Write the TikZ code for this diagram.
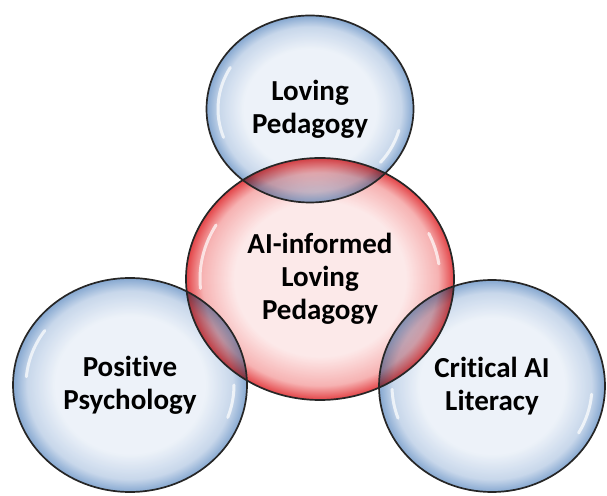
\documentclass[tikz,border=0pt]{standalone}
\usepackage{fontspec}
\setmainfont{Carlito}[Ligatures=NoCommon]
\usetikzlibrary{shapes.geometric}
\definecolor{bluein}{RGB}{234,240,248}
\definecolor{bluemid}{RGB}{190,208,231}
\definecolor{bluerim}{RGB}{112,152,200}
\definecolor{redin}{RGB}{252,229,229}
\definecolor{redmid}{RGB}{245,165,165}
\definecolor{redrim}{RGB}{222,34,38}
\pgfdeclareradialshading{bubblue}{\pgfpoint{0bp}{0bp}}{color(0bp)=(bluein); color(16bp)=(bluein); color(22bp)=(bluemid); color(25bp)=(bluerim); color(50bp)=(bluerim)}
\pgfdeclareradialshading{bubred}{\pgfpoint{0bp}{0bp}}{color(0bp)=(redin); color(16bp)=(redin); color(22bp)=(redmid); color(25bp)=(redrim); color(50bp)=(redrim)}
\begin{document}
\begin{tikzpicture}[x=1pt, y=1pt,
  bubble/.style={ellipse, inner sep=0pt, align=center, fill opacity=0.85, text opacity=1,
    font=\bfseries\fontsize{29}{33}\selectfont},
  rim/.style={draw=black!85, line width=1.7pt},
  gloss/.style={white, line width=3pt, line cap=round, opacity=0.7}]
\useasboundingbox (0,0) rectangle (607,495);
\node[bubble, shading=bubred, minimum width=268pt, minimum height=242pt] (core) at (320,216) {AI-informed\\Loving\\Pedagogy};
\begin{scope}[blend mode=multiply]
\node[bubble, shading=bubblue, minimum width=207pt, minimum height=187pt] (lp) at (310,386) {Loving\\Pedagogy};
\node[bubble, shading=bubblue, minimum width=234pt, minimum height=214pt] (pp) at (130,110) {Positive\\Psychology};
\node[bubble, shading=bubblue, minimum width=226pt, minimum height=212pt] (cal) at (492,109) {Critical AI\\Literacy};
\end{scope}
% highlights
\draw[gloss] (core.center) ++(150:120pt and 108pt) arc[start angle=150, end angle=185, x radius=120pt, y radius=108pt];
\draw[gloss] (core.center) ++(25:120pt and 108pt) arc[start angle=25, end angle=8, x radius=120pt, y radius=108pt];
\draw[gloss] (lp.center) ++(150:92pt and 83pt) arc[start angle=150, end angle=200, x radius=92pt, y radius=83pt];
\draw[gloss] (lp.center) ++(-15:92pt and 83pt) arc[start angle=-15, end angle=-40, x radius=92pt, y radius=83pt];
\draw[gloss] (pp.center) ++(145:104pt and 95pt) arc[start angle=145, end angle=175, x radius=104pt, y radius=95pt];
\draw[gloss] (pp.center) ++(0:104pt and 95pt) arc[start angle=0, end angle=-20, x radius=104pt, y radius=95pt];
\draw[gloss] (cal.center) ++(182:100pt and 94pt) arc[start angle=182, end angle=200, x radius=100pt, y radius=94pt];
\draw[gloss] (cal.center) ++(-5:100pt and 94pt) arc[start angle=-5, end angle=-30, x radius=100pt, y radius=94pt];
% outlines
\foreach \n/\rx/\ry in {core/134/121, lp/103.5/93.5, pp/117/107, cal/113/106}
  \draw[rim] (\n.center) ellipse [x radius=\rx pt, y radius=\ry pt];
\end{tikzpicture}
\end{document}
